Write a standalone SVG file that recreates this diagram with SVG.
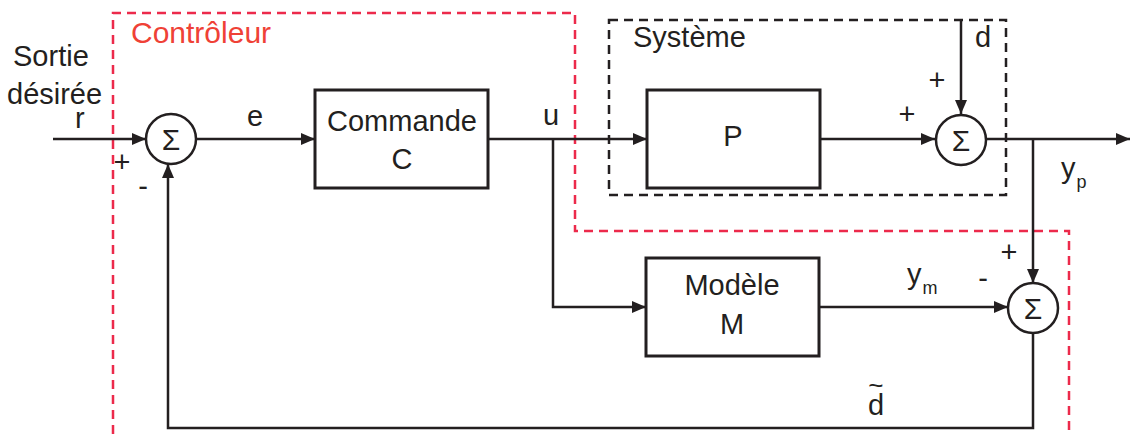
<svg xmlns="http://www.w3.org/2000/svg" width="1130" height="434" viewBox="0 0 1130 434">
<style>
text{font-family:"Liberation Sans",Arial,sans-serif;font-size:29px;fill:#231f20}
.c{text-anchor:middle}
.sig{font-size:30px;text-anchor:middle}
.sub{font-size:18px}
.box{fill:#fff;stroke:#231f20;stroke-width:3}
.sum{fill:#fff;stroke:#231f20;stroke-width:2.5}
.w{fill:none;stroke:#231f20;stroke-width:2.5}
.red{fill:none;stroke:#ec2a4b;stroke-width:2.5;stroke-dasharray:9 6}
.blk{fill:none;stroke:#231f20;stroke-width:2.5;stroke-dasharray:9 6}
</style>
<defs>
<marker id="ar" markerUnits="userSpaceOnUse" markerWidth="14" markerHeight="12" refX="14" refY="6" orient="auto">
<path d="M0,0 L14,6 L0,12 Z" fill="#231f20"/>
</marker>
</defs>
<rect width="1130" height="434" fill="#fff"/>
<g id="controleur">
<path class="red" d="M113,434 V13 H575 V231 H1069 V434"/>
<text x="131" y="43" style="fill:#ef4136;font-size:30px">Contrôleur</text>
</g>
<g id="systeme">
<rect class="blk" x="609" y="20" width="397" height="175"/>
<text x="633" y="47">Système</text>
</g>
<g id="connectors">
<path class="w" d="M53,139 H146" marker-end="url(#ar)"/>
<path class="w" d="M196,139 H315" marker-end="url(#ar)"/>
<path class="w" d="M488,139 H647" marker-end="url(#ar)"/>
<path class="w" d="M553,139 V307 H646" marker-end="url(#ar)"/>
<path class="w" d="M820,139 H935" marker-end="url(#ar)"/>
<path class="w" d="M961,20 V114" marker-end="url(#ar)"/>
<path class="w" d="M986,139 H1130" marker-end="url(#ar)"/>
<path class="w" d="M1033,139 V283" marker-end="url(#ar)"/>
<path class="w" d="M819,307 H1008" marker-end="url(#ar)"/>
<path class="w" d="M1033,333 V428 H168 V164" marker-end="url(#ar)"/>
</g>
<g id="input">
<text x="13" y="66">Sortie</text>
<text x="7" y="104">désirée</text>
<text x="75" y="128">r</text>
</g>
<g id="sum1">
<circle class="sum" cx="171" cy="139" r="25"/>
<text class="sig" x="171" y="150">Σ</text>
<text class="c" x="122" y="172">+</text>
<text class="c" x="143" y="196">-</text>
</g>
<g id="label-e"><text class="c" x="255" y="126">e</text></g>
<g id="commande">
<rect class="box" x="315" y="90" width="173" height="98"/>
<text class="c" x="402" y="131">Commande</text>
<text class="c" x="402" y="169">C</text>
</g>
<g id="label-u"><text class="c" x="551" y="125">u</text></g>
<g id="plant">
<rect class="box" x="647" y="90" width="173" height="98"/>
<text class="c" x="733" y="146">P</text>
</g>
<g id="sum2">
<circle class="sum" cx="961" cy="140" r="25"/>
<text class="sig" x="961" y="151">Σ</text>
<text class="c" x="907" y="124">+</text>
<text class="c" x="937" y="90">+</text>
</g>
<g id="label-d"><text x="975" y="47">d</text></g>
<g id="label-yp">
<text x="1061" y="178">y<tspan class="sub" dx="1" dy="10">p</tspan></text>
</g>
<g id="modele">
<rect class="box" x="646" y="258" width="173" height="98"/>
<text class="c" x="732" y="295">Modèle</text>
<text class="c" x="732" y="334">M</text>
</g>
<g id="label-ym">
<text x="907" y="284">y<tspan class="sub" dx="1" dy="10">m</tspan></text>
</g>
<g id="sum3">
<circle class="sum" cx="1033" cy="308" r="25"/>
<text class="sig" x="1033" y="319">Σ</text>
<text class="c" x="1009" y="262">+</text>
<text class="c" x="983" y="288">-</text>
</g>
<g id="label-dtilde"><text x="868" y="415">d<tspan dx="-16" dy="-21" style="font-size:26px">~</tspan></text></g>
</svg>
